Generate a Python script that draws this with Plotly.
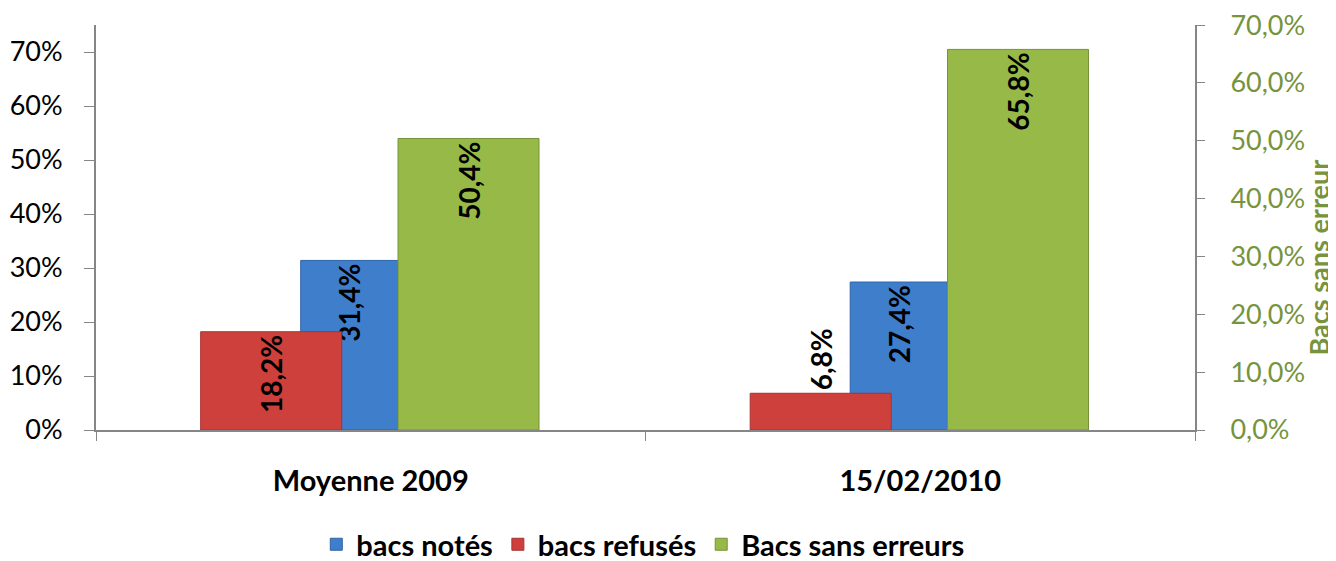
import plotly.graph_objects as go

categories = ["Moyenne 2009", "15/02/2010"]
bacs_notes = [0.314, 0.274]
bacs_refuses = [0.182, 0.068]
bacs_sans_erreurs = [0.504, 0.658]
left_ticks = [0, 0.1, 0.2, 0.3, 0.4, 0.5, 0.6, 0.7]
right_ticks = [0, 0.1, 0.2, 0.3, 0.4, 0.5, 0.6, 0.7]

FONT = "Lato"
GREEN_TXT = "#77933C"

def lab(vals):
    return [f"{v*100:.1f}%".replace(".", ",") for v in vals]

LBL = dict(family=FONT, size=28, color="black", weight="bold")

fig = go.Figure()
fig.add_trace(go.Bar(
    x=categories, y=bacs_notes, name="bacs notés",
    marker=dict(color="#3F7ECB", line=dict(color="#2E64A8", width=1)),
    offset=-0.1275, width=0.177,
    text=lab(bacs_notes), textposition="inside", insidetextanchor="end", textangle=-90,
    textfont=LBL, cliponaxis=False,
))
fig.add_trace(go.Bar(
    x=categories, y=bacs_refuses, name="bacs refusés",
    marker=dict(color="#CE403B", line=dict(color="#A83230", width=1)),
    offset=-0.3095, width=0.2566,
    text=lab(bacs_refuses), textposition=["inside", "outside"], insidetextanchor="end", textangle=-90,
    textfont=LBL, cliponaxis=False,
))
fig.add_trace(go.Bar(
    x=categories, y=bacs_sans_erreurs, name="Bacs sans erreurs", yaxis="y2",
    marker=dict(color="#96B947", line=dict(color="#76933A", width=1)),
    offset=0.0496, width=0.2566,
    text=lab(bacs_sans_erreurs), textposition="inside", insidetextanchor="end", textangle=-90,
    textfont=LBL, cliponaxis=False,
))

fig.update_layout(
    width=1328, height=553,
    margin=dict(l=88, r=141, t=17, b=131, autoexpand=False),
    paper_bgcolor="white", plot_bgcolor="white",
    barmode="overlay",
    uniformtext=dict(minsize=28, mode="show"),
    font=dict(family=FONT),
    showlegend=True,
    legend=dict(orientation="h", x=0.478, xanchor="center", xref="container",
                y=0.03, yanchor="middle", yref="container",
                font=dict(family=FONT, size=29, color="black", weight="bold"),
                itemwidth=30, traceorder="normal"),
    xaxis=dict(type="category", tickson="boundaries", ticks="outside", ticklen=9,
               tickcolor="#868686", showline=True, linecolor="#868686", linewidth=2,
               showgrid=False, tickfont=dict(family=FONT, size=29, color="black", weight="bold"),
               ticklabelstandoff=24, range=[-0.5, 1.5]),
    yaxis=dict(range=[0, 0.75], tickvals=left_ticks, tickformat=".0%",
               ticks="outside", ticklen=10, tickcolor="#868686",
               showline=True, linecolor="#868686", linewidth=2, showgrid=False,
               zeroline=False, ticklabelstandoff=16,
               tickfont=dict(family=FONT, size=27, color="black")),
    yaxis2=dict(range=[0, 0.7002], tickvals=right_ticks,
                ticktext=[f"{v*100:.1f}%".replace(".", ",") for v in right_ticks],
                overlaying="y", side="right", ticks="outside", ticklen=8, tickcolor="#868686",
                showline=True, linecolor="#868686", linewidth=2, showgrid=False,
                zeroline=False, ticklabelstandoff=20, ticklabeloverflow="allow",
                tickfont=dict(family=FONT, size=27, color=GREEN_TXT)),
    annotations=[dict(text="Bacs sans erreur", xref="paper", yref="paper",
                      x=1.1125, y=0.425, textangle=-90, showarrow=False,
                      xanchor="center", yanchor="middle",
                      font=dict(family=FONT, size=27, color=GREEN_TXT, weight="bold"))],
)

fig.write_html("out.html")
